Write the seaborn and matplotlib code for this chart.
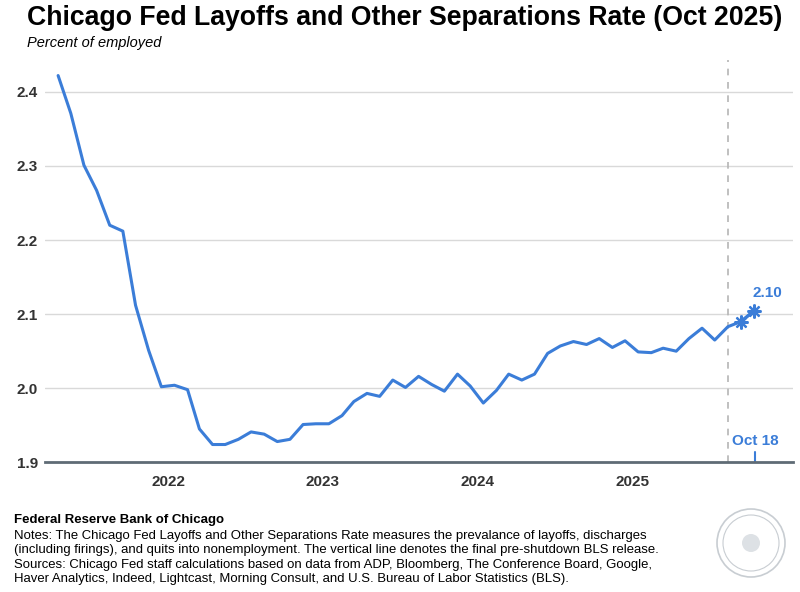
import pandas as pd
import numpy as np
import matplotlib
matplotlib.use("Agg")
import matplotlib.pyplot as plt
from matplotlib.patches import Circle
import seaborn as sns

# data (monthly, plotted mid-month)
months = pd.date_range("2021-04-01", periods=55, freq="MS") + pd.Timedelta(days=14)
rate_2021 = [2.422, 2.371, 2.301, 2.267, 2.220, 2.212, 2.112, 2.051, 2.002]
rate_2022 = [2.004, 1.998, 1.945, 1.924, 1.924, 1.931, 1.941, 1.938, 1.928, 1.931, 1.951, 1.952]
rate_2023 = [1.952, 1.963, 1.982, 1.993, 1.989, 2.011, 2.001, 2.016, 2.005, 1.996, 2.019, 2.003]
rate_2024 = [1.980, 1.997, 2.019, 2.011, 2.019, 2.047, 2.057, 2.063, 2.059, 2.067, 2.055, 2.064]
rate_2025 = [2.049, 2.048, 2.054, 2.050, 2.067, 2.081, 2.065, 2.083, 2.090, 2.104]
rates = rate_2021 + rate_2022 + rate_2023 + rate_2024 + rate_2025
year_ticks = ["2022", "2023", "2024", "2025"]
y_ticks = [1.9, 2.0, 2.1, 2.2, 2.3, 2.4]
last_release = "2025-08-15"
nowcast_date = "2025-10-18"

df = pd.DataFrame({"date": months, "rate": rates})
nowcast = df.iloc[-2:]

blue = "#3b7dd8"
dark = "#333333"

sns.set_style("white")
plt.rcParams['font.family'] = ['Liberation Sans', 'DejaVu Sans']

fig = plt.figure(figsize=(8, 5.92), dpi=100)
ax = fig.add_axes([45 / 800, 1 - 462.3 / 592, 748 / 800, (462.3 - 60) / 592])

for y in y_ticks[1:]:
    ax.axhline(y, color="#d9d9d9", lw=1, zorder=0)

ax.axvline(pd.Timestamp(last_release), color="#b5b5b5", lw=1.2, ls=(0, (4, 4)), zorder=1)

sns.lineplot(data=df, x="date", y="rate", ax=ax, color=blue, lw=2.2, zorder=3)
sns.lineplot(data=nowcast, x="date", y="rate", ax=ax, color=blue, lw=2.2,
             marker=(8, 2, 0), markersize=10, markeredgewidth=1.6,
             markeredgecolor=blue, zorder=4)

ax.set_xlim(pd.Timestamp("2021-03-15"), pd.Timestamp("2026-01-16"))
ax.set_ylim(1.9, 2.443)
ax.set_xticks([pd.Timestamp(t + "-01-01") for t in year_ticks])
ax.set_xticklabels(year_ticks)
ax.set_yticks(y_ticks)
ax.set_yticklabels([f"{v:.1f}" for v in y_ticks])
ax.set_xlabel("")
ax.set_ylabel("")

for s in ["top", "right", "left"]:
    ax.spines[s].set_visible(False)
ax.spines["bottom"].set_color("#5f6b75")
ax.spines["bottom"].set_linewidth(2)
ax.tick_params(axis="x", length=5, width=1, color="#5f6b75", pad=4,
               labelsize=11, labelcolor=dark)
ax.tick_params(axis="y", length=0, pad=5, labelsize=11, labelcolor=dark)
for lab in ax.get_xticklabels() + ax.get_yticklabels():
    lab.set_fontweight("bold")

# nowcast date marker and labels
ax.axvline(pd.Timestamp(nowcast_date), ymin=0, ymax=0.025, color=blue, lw=1.5)
ax.text(pd.Timestamp(nowcast_date), 1.929, "Oct 18", color=blue, fontsize=11,
        fontweight="bold", ha="center", va="center")
ax.text(nowcast["date"].iloc[-1] + pd.Timedelta(days=33), 2.128, f"{rates[-1]:.2f}",
        color=blue, fontsize=11, fontweight="bold", ha="center", va="center")

# titles
title = fig.text(27 / 800, 1 - 18 / 592, "Chicago Fed Layoffs and Other Separations Rate (Oct 2025)",
                 fontsize=20, fontweight="bold", color="black", ha="left", va="center")
renderer = fig.canvas.get_renderer()
w = title.get_window_extent(renderer).width
title.set_fontsize(20 * 755 / w)
fig.text(27 / 800, 1 - 43 / 592, "Percent of employed", fontsize=10.5,
         style="italic", color="black", ha="left", va="center")

# footer
fig.text(14 / 800, 1 - 520 / 592, "Federal Reserve Bank of Chicago", fontsize=9.5,
         fontweight="bold", color="black", ha="left", va="center")
notes = [
    "Notes: The Chicago Fed Layoffs and Other Separations Rate measures the prevalance of layoffs, discharges",
    "(including firings), and quits into nonemployment. The vertical line denotes the final pre-shutdown BLS release.",
    "Sources: Chicago Fed staff calculations based on data from ADP, Bloomberg, The Conference Board, Google,",
    "Haver Analytics, Indeed, Lightcast, Morning Consult, and U.S. Bureau of Labor Statistics (BLS).",
]
for i, line in enumerate(notes):
    fig.text(14 / 800, 1 - (536 + 14.3 * i) / 592, line, fontsize=9.45,
             color="black", ha="left", va="center")

# seal, drawn as faint rings (in inches so it stays round)
cx, cy = 751 / 100, (592 - 543) / 100
for r, lw in [(0.34, 1.2), (0.28, 0.8)]:
    fig.patches.append(Circle((cx, cy), r, transform=fig.dpi_scale_trans,
                              fill=False, ec="#c8cdd2", lw=lw))
fig.patches.append(Circle((cx, cy), 0.09, transform=fig.dpi_scale_trans,
                          fill=True, fc="#dde1e5", ec="none"))

fig.savefig("out.png", dpi=100)
